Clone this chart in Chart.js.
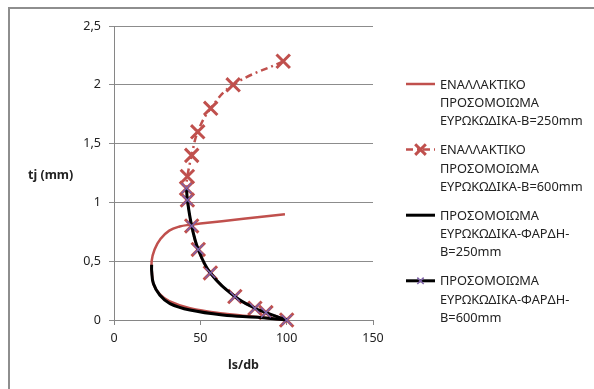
<!DOCTYPE html>
<html>
<head>
<meta charset="utf-8">
<script src="https://cdn.jsdelivr.net/npm/chart.js@4.4.1/dist/chart.umd.min.js"></script>
<style>
  html, body { margin: 0; padding: 0; background: #fff; }
  #wrap { width: 594px; height: 389px; position: relative; }
</style>
</head>
<body>
<div id="wrap"><canvas id="grafico" width="594" height="389"></canvas></div>
<script>
// Δεδομένα (διαβασμένα από το διάγραμμα)
const xTicks = [0, 50, 100, 150];
const yTicks = [0, 0.5, 1, 1.5, 2, 2.5];

// ΕΝΑΛΛΑΚΤΙΚΟ - B=250mm
const ls1 = [99, 75, 50, 44, 38, 32, 27, 23.5, 21.8, 22, 23, 26.5, 32, 44, 63, 82, 100];
const tj1 = [0.90, 0.861, 0.82, 0.81, 0.795, 0.76, 0.69, 0.6, 0.5, 0.4, 0.3, 0.22, 0.16, 0.1, 0.055, 0.027, 0];

// ΕΝΑΛΛΑΚΤΙΚΟ - B=600mm
const ls2 = [98, 69, 56, 48.5, 45, 42.5, 42, 42.5, 45, 48.8, 55.8, 70, 81.6, 88, 100];
const tj2 = [2.2, 2.0, 1.8, 1.6, 1.4, 1.22, 1.12, 1.02, 0.8, 0.6, 0.4, 0.2, 0.1, 0.063, 0];

// ΦΑΡΔΗ - B=250mm
const ls3 = [21.8, 21.8, 22.8, 26.6, 32.4, 44, 63, 83, 100];
const tj3 = [0.47, 0.42, 0.31, 0.21, 0.14, 0.085, 0.043, 0.023, 0];

// ΦΑΡΔΗ - B=600mm
const ls4 = [42, 42.5, 45, 48.8, 55.8, 70, 81.6, 88, 100];
const tj4 = [1.12, 1.02, 0.8, 0.6, 0.4, 0.2, 0.1, 0.063, 0];

const etiketes = [
    ['ΕΝΑΛΛΑΚΤΙΚΟ', 'ΠΡΟΣΟΜΟΙΩΜΑ', 'ΕΥΡΩΚΩΔΙΚΑ-B=250mm'],
    ['ΕΝΑΛΛΑΚΤΙΚΟ', 'ΠΡΟΣΟΜΟΙΩΜΑ', 'ΕΥΡΩΚΩΔΙΚΑ-B=600mm'],
    ['ΠΡΟΣΟΜΟΙΩΜΑ', 'ΕΥΡΩΚΩΔΙΚΑ-ΦΑΡΔΗ-', 'B=250mm'],
    ['ΠΡΟΣΟΜΟΙΩΜΑ', 'ΕΥΡΩΚΩΔΙΚΑ-ΦΑΡΔΗ-', 'B=600mm']
];

const FONT = '"Noto Sans", "DejaVu Sans", sans-serif';
const RED = '#c0504d';
const PURPLE = '#7f63a8';

function pontos(xs, ys) {
    return xs.map((x, i) => ({ x: x, y: ys[i] }));
}

// Moldura + títulos dos eixos + legenda
const extras = {
    id: 'extras',
    beforeDraw(chart) {
        const ctx = chart.ctx;
        ctx.save();
        ctx.strokeStyle = '#8e8e8e';
        ctx.lineWidth = 2;
        ctx.beginPath();
        ctx.moveTo(9, 389);
        ctx.lineTo(9, 8);
        ctx.lineTo(594, 8);
        ctx.stroke();
        ctx.restore();
    },
    afterDraw(chart) {
        const ctx = chart.ctx;
        const area = chart.chartArea;
        ctx.save();
        ctx.fillStyle = '#222';
        ctx.font = 'bold 12.5px ' + FONT;
        ctx.textBaseline = 'middle';
        ctx.textAlign = 'left';
        ctx.fillText('tj (mm)', 28, 175);
        ctx.textAlign = 'center';
        ctx.fillText('ls/db', (area.left + area.right) / 2, 365);

        // legenda
        ctx.font = '12.8px ' + FONT;
        ctx.textAlign = 'left';
        chart.data.datasets.forEach((ds, i) => {
            const y0 = 85 + i * 65.6;
            ctx.save();
            ctx.strokeStyle = ds.borderColor;
            ctx.lineWidth = ds.borderWidth;
            ctx.setLineDash(ds.borderDash || []);
            ctx.beginPath();
            ctx.moveTo(406, y0 - 1);
            ctx.lineTo(435, y0 - 1);
            ctx.stroke();
            ctx.restore();
            if (ds.pointRadius > 0) {
                const r = (i === 1 ? 7.5 : 4.5) * Math.SQRT1_2;
                ctx.strokeStyle = ds.pointBorderColor;
                ctx.lineWidth = ds.pointBorderWidth;
                ctx.setLineDash([]);
                ctx.beginPath();
                ctx.moveTo(420.5 - r, y0 - 1 - r); ctx.lineTo(420.5 + r, y0 - 1 + r);
                ctx.moveTo(420.5 + r, y0 - 1 - r); ctx.lineTo(420.5 - r, y0 - 1 + r);
                ctx.stroke();
            }
            ctx.fillStyle = '#222';
            etiketes[i].forEach((linha, j) => {
                ctx.fillText(linha, 440, y0 + j * 18.3);
            });
        });
        ctx.restore();
    }
};

document.addEventListener('DOMContentLoaded', function () {
    const ctx = document.getElementById('grafico').getContext('2d');
    new Chart(ctx, {
        type: 'scatter',
        data: {
            datasets: [
                {
                    label: etiketes[0].join(' '),
                    data: pontos(ls1, tj1),
                    showLine: true,
                    borderColor: RED,
                    borderWidth: 2.5,
                    pointRadius: 0,
                    tension: 0.4,
                    order: 4,
                    clip: false
                },
                {
                    label: etiketes[1].join(' '),
                    data: pontos(ls2, tj2),
                    showLine: true,
                    borderColor: RED,
                    borderWidth: 2.5,
                    borderDash: [7, 4, 2, 4],
                    pointStyle: 'crossRot',
                    pointRadius: 9.5,
                    pointBorderWidth: 3,
                    pointBorderColor: RED,
                    pointBackgroundColor: RED,
                    tension: 0.4,
                    order: 3,
                    clip: false
                },
                {
                    label: etiketes[2].join(' '),
                    data: pontos(ls3, tj3),
                    showLine: true,
                    borderColor: '#000',
                    borderWidth: 3,
                    pointRadius: 0,
                    tension: 0.4,
                    order: 2,
                    clip: false
                },
                {
                    label: etiketes[3].join(' '),
                    data: pontos(ls4, tj4),
                    showLine: true,
                    borderColor: '#000',
                    borderWidth: 3,
                    pointStyle: 'crossRot',
                    pointRadius: 7,
                    pointBorderWidth: 1.5,
                    pointBorderColor: PURPLE,
                    pointBackgroundColor: PURPLE,
                    tension: 0.4,
                    order: 1,
                    clip: false
                }
            ]
        },
        options: {
            responsive: false,
            devicePixelRatio: 1,
            animation: false,
            layout: { padding: { left: 0, top: 26, right: 221, bottom: 0 } },
            plugins: {
                legend: { display: false },
                tooltip: { enabled: false }
            },
            scales: {
                x: {
                    type: 'linear',
                    min: xTicks[0],
                    max: xTicks[xTicks.length - 1],
                    afterBuildTicks: (axis) => { axis.ticks = xTicks.map(v => ({ value: v })); },
                    afterFit: (axis) => { axis.height = 69; },
                    grid: { drawOnChartArea: false, drawTicks: true, tickLength: 5, color: '#868686' },
                    border: { display: true, color: '#868686' },
                    ticks: { color: '#222', font: { family: FONT, size: 12.5 }, padding: 6 }
                },
                y: {
                    min: yTicks[0],
                    max: yTicks[yTicks.length - 1],
                    afterBuildTicks: (axis) => { axis.ticks = yTicks.map(v => ({ value: v })); },
                    afterFit: (axis) => { axis.width = 114; },
                    grid: { color: '#8c8c8c', tickLength: 5 },
                    border: { display: true, color: '#868686' },
                    ticks: {
                        color: '#222',
                        font: { family: FONT, size: 12.5 },
                        padding: 8,
                        callback: (v) => String(v).replace('.', ',')
                    }
                }
            }
        },
        plugins: [extras]
    });
});
</script>
</body>
</html>
